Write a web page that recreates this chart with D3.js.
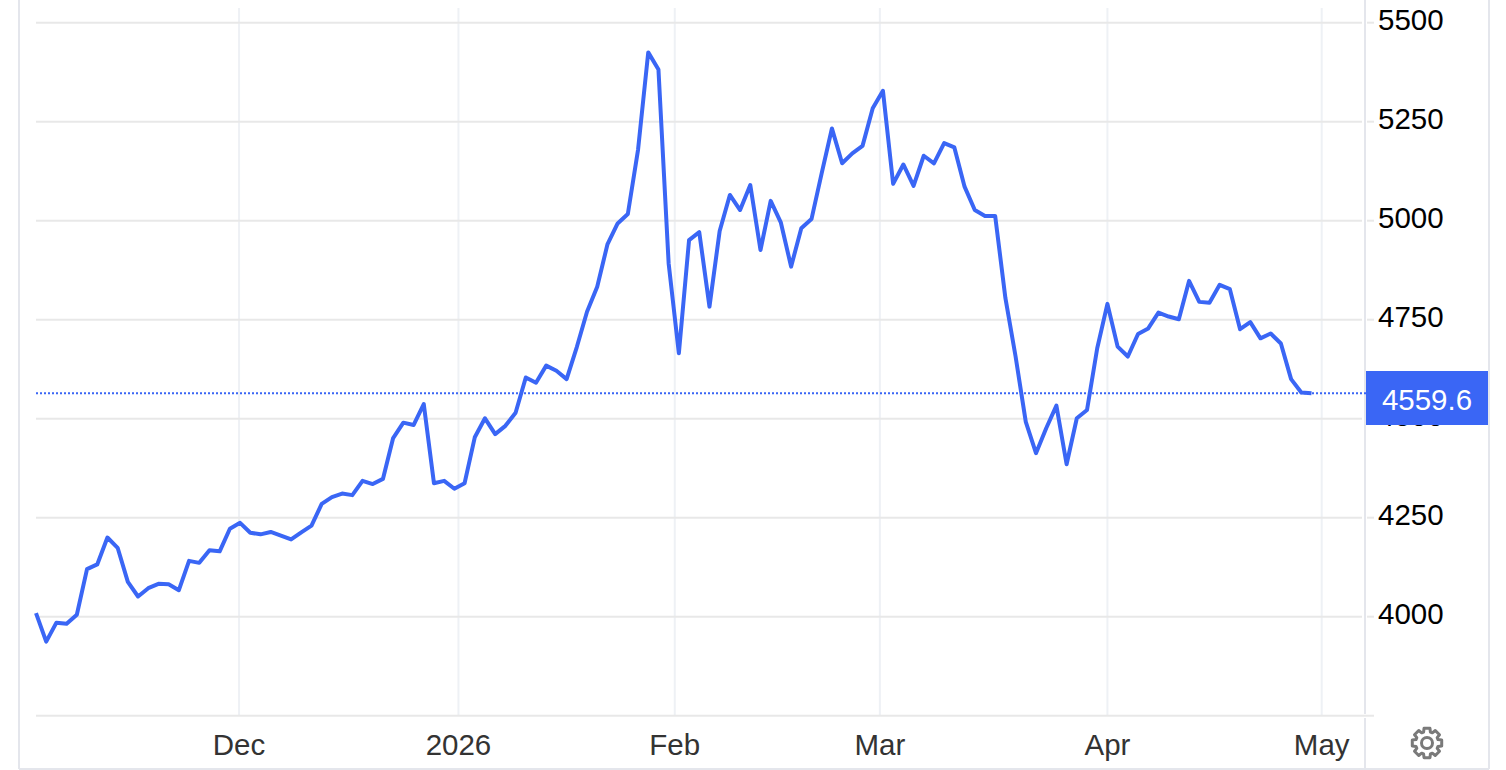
<!DOCTYPE html>
<html><head><meta charset="utf-8">
<style>html,body{margin:0;padding:0;background:#fff}svg{display:block}text{font-family:"Liberation Sans",Arial,sans-serif}</style>
<script src="https://cdn.jsdelivr.net/npm/d3@7"></script></head><body>
<script>
const values=[4009,3937,3985,3982,4005,4120,4132,4200,4174,4088,4051,4072,4083,4082,4067,4141,4136,4168,4165,4222,4237,4212,4208,4214,4205,4195,4213,4230,4285,4302,4311,4307,4343,4335,4348,4451,4490,4484,4537,4337,4343,4323,4337,4453,4501,4461,4482,4515,4604,4591,4634,4621,4600,4681,4770,4833,4940,4993,5017,5179,5425,5382,4892,4665,4951,4971,4783,4974,5065,5027,5090,4926,5050,4995,4884,4981,5004,5120,5233,5145,5170,5189,5284,5328,5093,5142,5088,5164,5145,5196,5185,5086,5027,5012,5012,4805,4657,4492,4413,4476,4533,4385,4501,4522,4678,4790,4682,4657,4714,4728,4768,4758,4751,4848,4795,4793,4838,4827,4726,4744,4703,4715,4690,4600,4566,4564];
const yTicks=[4000,4250,4500,4750,5000,5250,5500];
const xTickLabels=["Dec","2026","Feb","Mar","Apr","May"];
const xTickIndex=[19.9,41.4,62.6,82.7,105,126];
const lastLabel="4559.6";
const blue="#3a66f5";
const W=1506,H=770;
const svg=d3.select("body").append("svg").attr("width",W).attr("height",H);
const x=d3.scaleLinear().domain([0,125]).range([36,1311.5]);
const y=d3.scaleLinear().domain([3750,5500]).range([715.7,22.7]);
// frame
const frame="#e4e6ec";
const seg=(x1,y1,x2,y2,c,w)=>svg.append("line").attr("x1",x1).attr("y1",y1).attr("x2",x2).attr("y2",y2).attr("stroke",c).attr("stroke-width",w);
seg(19,0,19,769,frame,2);
seg(1489,0,1489,769,frame,2);
seg(19,769,1489,769,frame,2);
seg(1365,0,1365,714,frame,2);
seg(1365,718,1365,769,frame,2);
// grid
svg.append("g").selectAll("line").data(xTickIndex).join("line")
 .attr("x1",d=>x(d)).attr("x2",d=>x(d)).attr("y1",8).attr("y2",715)
 .attr("stroke","#eef1f5").attr("stroke-width",2);
svg.append("g").selectAll("line").data(yTicks).join("line")
 .attr("x1",36).attr("x2",1362).attr("y1",d=>y(d)).attr("y2",d=>y(d))
 .attr("stroke","#e8e8e8").attr("stroke-width",2);
svg.append("g").selectAll("line").data(yTicks).join("line")
 .attr("x1",1367).attr("x2",1374).attr("y1",d=>y(d)).attr("y2",d=>y(d))
 .attr("stroke","#e8e8e8").attr("stroke-width",2);
seg(36,y(3750),1374,y(3750),"#e8e8e8",2);
// y labels
svg.append("g").selectAll("text").data(yTicks).join("text")
 .attr("x",1378).attr("y",d=>y(d)+7).attr("font-size",29.5).attr("fill","#000").text(d=>d);
// x labels
svg.append("g").selectAll("text").data(xTickLabels).join("text")
 .attr("x",(d,i)=>x(xTickIndex[i])).attr("y",755).attr("text-anchor","middle")
 .attr("font-size",29.5).attr("fill","#333").text(d=>d);
// price line
const last=values[values.length-1];
seg(36,y(last),1366,y(last),blue,2).attr("stroke-dasharray","2 2");
// series
svg.append("path").attr("d",d3.line().x((d,i)=>x(i)).y(d=>y(d))(values))
 .attr("fill","none").attr("stroke",blue).attr("stroke-width",4).attr("stroke-linejoin","round");
// label
svg.append("rect").attr("x",1366).attr("y",371).attr("width",122).attr("height",54).attr("fill",blue);
svg.append("text").attr("x",1427).attr("y",409.5).attr("text-anchor","middle").attr("font-size",29.5).attr("fill","#fff").text(lastLabel);
// gear
const cx=1427,cy=743,gear=svg.append("g").attr("transform",`translate(${cx},${cy})`).attr("fill","none").attr("stroke","#7a7a7a").attr("stroke-width",3);
const teeth=8,pts=[];
for(let k=0;k<teeth;k++){const a=k*2*Math.PI/teeth-Math.PI/2;[[-.3,11.5],[-.2,15],[.2,15],[.3,11.5]].forEach(([o,r])=>pts.push([r*Math.cos(a+o),r*Math.sin(a+o)]));}
gear.append("path").attr("d",d3.line().curve(d3.curveLinearClosed)(pts)).attr("stroke-linejoin","round");
gear.append("circle").attr("r",5.5);
</script></body></html>
